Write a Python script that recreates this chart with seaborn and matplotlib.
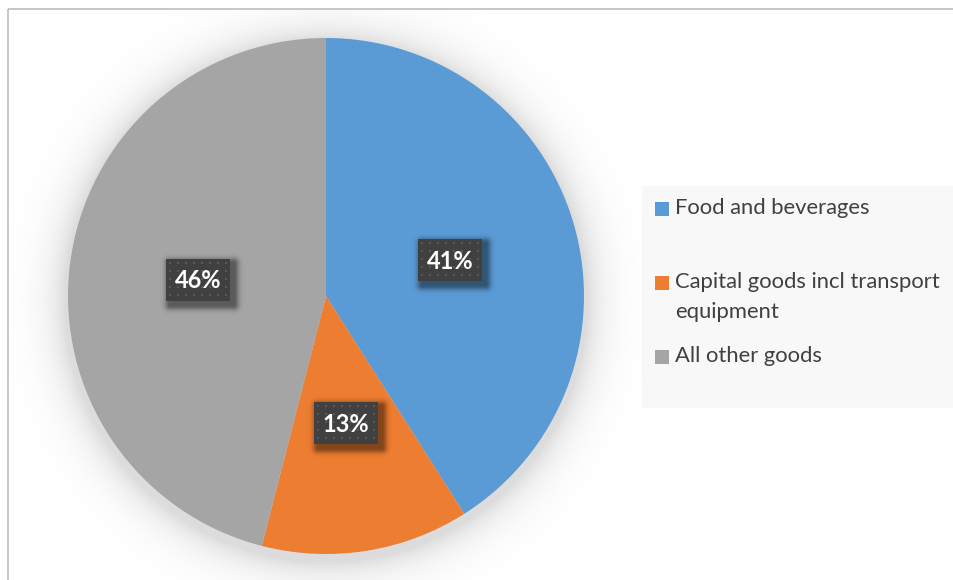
import numpy as np
import matplotlib
matplotlib.use("Agg")
import matplotlib.pyplot as plt
import seaborn as sns

# ---- data ----
categories = ["Food and beverages",
              "Capital goods incl transport\nequipment",
              "All other goods"]
shares = [41, 13, 46]
colors = ["#5B9BD5", "#ED7D31", "#A5A5A5"]

sns.set_theme(style="white")
plt.rcParams["font.family"] = ["Lato", "DejaVu Sans"]

W, H = 954, 580
fig = plt.figure(figsize=(W / 100, H / 100), dpi=100)
fig.patch.set_facecolor("white")
ax = fig.add_axes([0, 0, 1, 1])
ax.set_facecolor("white")

# pixel-like coordinate system, y grows downward
cx, cy, R = 326, 296, 258


def rgba_layer(alpha, color=(0, 0, 0)):
    img = np.zeros(alpha.shape + (4,))
    img[..., 0], img[..., 1], img[..., 2] = color
    img[..., 3] = alpha
    return img


# soft glow/shadow around the pie
ys, xs = np.mgrid[0:H, 0:W] + 0.5
dist = np.hypot(xs - cx, ys - (cy + 5)) - (R + 3)
glow = 0.14 * np.exp(-np.clip(dist, 0, None) / 18.0)
glow[(xs < 9) | (ys < 10)] = 0
ax.imshow(rgba_layer(glow), extent=(0, W, H, 0), origin="upper",
          zorder=1, interpolation="bilinear")

# pie: start at 12 o'clock, clockwise on screen (y axis is inverted)
wedges, _ = ax.pie(shares, colors=colors, startangle=-90, counterclock=True,
                   center=(cx, cy), radius=R, frame=True,
                   wedgeprops=dict(linewidth=0))
for w in wedges:
    w.set_zorder(2)


def box_shadow(x0, y0, w, h, off=4, blur=5.0, alpha=0.45, pad=16):
    gx = np.arange(x0 - pad, x0 + w + pad + off) + 0.5
    gy = np.arange(y0 - pad, y0 + h + pad + off) + 0.5
    X, Y = np.meshgrid(gx, gy)
    sx0, sy0 = x0 + off, y0 + off
    dx = np.maximum(np.maximum(sx0 - X, X - (sx0 + w)), 0)
    dy = np.maximum(np.maximum(sy0 - Y, Y - (sy0 + h)), 0)
    a = alpha * np.exp(-(np.hypot(dx, dy) / blur) ** 2)
    ax.imshow(rgba_layer(a), extent=(gx[0] - 0.5, gx[-1] + 0.5, gy[-1] + 0.5, gy[0] - 0.5),
              origin="upper", zorder=4, interpolation="bilinear")


def dotted_box(x0, y0, w, h):
    iw, ih = int(round(w)), int(round(h))
    img = np.empty((ih, iw, 3))
    img[:] = np.array([64, 64, 64]) / 255
    yy, xx = np.mgrid[0:ih, 0:iw]
    dots = ((xx % 8) >= 3) & ((xx % 8) < 5) & ((yy % 8) >= 3) & ((yy % 8) < 5)
    img[dots] = np.array([88, 88, 88]) / 255
    ax.imshow(img, extent=(x0, x0 + w, y0 + h, y0), origin="upper",
              zorder=5, interpolation="nearest")


# data labels in the middle of each slice
bw, bh = 64, 42
for wedge, val in zip(wedges, shares):
    mid = np.deg2rad((wedge.theta1 + wedge.theta2) / 2)
    lx = cx + 0.5 * R * np.cos(mid)
    ly = cy + 0.5 * R * np.sin(mid)
    x0, y0 = lx - bw / 2, ly - bh / 2
    box_shadow(x0, y0, bw, bh)
    dotted_box(x0, y0, bw, bh)
    ax.text(lx, ly + 1, f"{val}%", ha="center", va="center", color="white",
            fontsize=17, fontweight="bold", zorder=6)

# legend panel
ax.add_patch(plt.Rectangle((642, 186), W - 642, 222, facecolor="#F8F8F8",
                           edgecolor="none", zorder=1.5))
legend_rows = [209, 283, 357]
for lab, col, ry in zip(categories, colors, legend_rows):
    ax.add_patch(plt.Rectangle((655, ry - 7), 14, 14, facecolor=col,
                               edgecolor="none", zorder=3))
    ax.text(675, ry - 11, lab, ha="left", va="top", color="#404040",
            fontsize=15.8, linespacing=1.6, zorder=3)

# chart frame (top and left edges visible)
ax.plot([8, W], [9, 9], color="#BDBDBD", lw=1.2, zorder=7, solid_capstyle="butt")
ax.plot([8, 8], [9, H], color="#BDBDBD", lw=1.2, zorder=7, solid_capstyle="butt")

ax.set_xlim(0, W)
ax.set_ylim(H, 0)
ax.set_aspect("auto")
ax.axis("off")

fig.savefig("out.png", dpi=100, facecolor="white")
